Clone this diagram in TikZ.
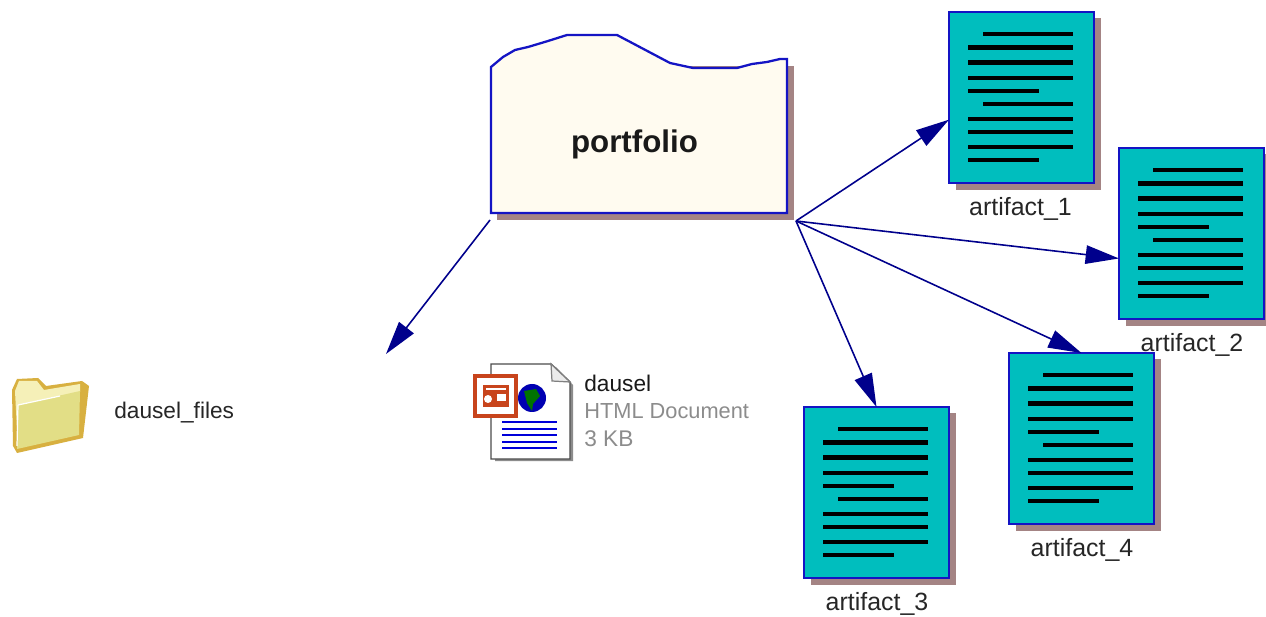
\documentclass[tikz,border=0pt]{standalone}
\usepackage{fontspec}
\setmainfont{Liberation Sans}
\usetikzlibrary{arrows.meta}
\definecolor{edgeblue}{HTML}{1414C4}
\definecolor{arrowblue}{HTML}{00008C}
\definecolor{shadowcol}{HTML}{A48484}
\definecolor{teal1}{HTML}{00BEBE}
\definecolor{cream}{HTML}{FFFBF0}
\definecolor{folderfill}{HTML}{E2DE86}
\definecolor{folderlight}{HTML}{F5F0B8}
\definecolor{folderedge}{HTML}{D8B040}
\definecolor{pptred}{HTML}{C8441C}
\tikzset{
  x=0.02cm,y=-0.02cm,
  artbox/.style={draw=edgeblue,line width=1.3pt,fill=teal1,minimum width=2.9cm,minimum height=3.42cm,inner sep=0pt,outer sep=0pt},
  textline/.style={line width=2.5pt,black},
  doclabel/.style={inner sep=0pt,font=\fontsize{14.2pt}{16pt}\selectfont,text=black!85},
  iconlabel/.style={inner sep=0pt,anchor=west,font=\fontsize{12.9pt}{15pt}\selectfont},
  link/.style={draw=arrowblue,line width=0.9pt,-{Triangle[length=19pt,width=10.5pt,fill=arrowblue]}},
  blueline/.style={line width=1.3pt,blue!85!black}
}
\begin{document}
\begin{tikzpicture}
\useasboundingbox (0,0) rectangle (1266,617);
\fill[white] (0,0) rectangle (1266,617);

% portfolio
\fill[shadowcol] (497,66) -- (794,66) -- (794,220) -- (497,220) -- cycle;
\draw[edgeblue,line width=1.3pt,fill=cream] (491,67) -- (503,57) -- (515,50) -- (528,47) -- (548,41) -- (567,35) -- (617,35) -- (670,63) -- (693,68) -- (737,68) -- (752,64) -- (767,62) -- (780,59) -- (787,59) -- (787,213) -- (491,213) -- cycle;
\node[inner sep=0pt,font=\fontsize{17.8pt}{20pt}\selectfont\bfseries,text=black!90] (pf) at (634.5,144) {portfolio};
\coordinate (hubR) at (796,221);
\coordinate (hubL) at (490,220);
\coordinate (filesEnd) at (386,354);

% artifacts
\foreach \n/\num/\cx/\cy/\lx/\ly in {a1/1/1021.5/97.5/1020.5/209,a2/2/1191.5/233.5/1192/345,a3/3/876.5/492.5/877/604,a4/4/1081.5/438.5/1082/550}{
  \fill[shadowcol] (\cx-66,\cy-79) rectangle (\cx+79.5,\cy+92.5);
  \node[artbox] (\n) at (\cx,\cy) {};
  \begin{scope}[shift={(\cx-72.5,\cy-85.5)}]
    \foreach \sx/\ex/\yy in {34/124/22,19/124/35.5,19/124/50.5,19/124/66,19/90/79,34/124/92,19/124/107,19/124/120,19/124/135,19/90/148}{
      \draw[textline] (\sx,\yy) -- (\ex,\yy);
    }
  \end{scope}
  \node[doclabel] (lab\n) at (\lx,\ly) {artifact\_\num};
}

% connectors
\draw[link] (hubL) -- (filesEnd);
\draw[link] (hubR) -- (a1.197);
\draw[link] (hubR) -- (a2.199);
\draw[link] (hubR) -- (a3.north);
\draw[link] (hubR) -- (a4.north);

% folder icon
\fill[folderedge] (12,390) -- (17,379) -- (38,378) -- (46,386) -- (82,381) -- (89,386) -- (83,438) -- (17,453) -- (13,446) -- cycle;
\fill[folderlight] (15,391) -- (19,381) -- (37,381) -- (44,390) -- (80,384) -- (80,392) -- (18,405) -- (17,430) -- cycle;
\fill[folderfill] (18,405) -- (80,391) -- (79,435) -- (17,449) -- cycle;
\draw[white,line width=0.7pt] (18,405) -- (60,396) (18,405) -- (17,446);
\node[iconlabel,text=black!85] (files) at (114,413) {dausel\_files};

% document icon
\fill[black!45] (495,367) -- (556,367) -- (573,385) -- (573,461) -- (495,461) -- cycle;
\draw[black!70,fill=white,line width=0.8pt] (491,364) -- (551,364) -- (570,382) -- (570,459) -- (491,459) -- cycle;
\draw[black!50,fill=black!8,line width=0.7pt] (551,364) -- (552,381) -- (570,382) -- cycle;
\fill[blue!70!black] (532,398) circle (14);
\fill[green!45!black] (524,391) -- (536,389) -- (540,396) -- (533,404) -- (532,411) -- (527,403) -- cycle;
\foreach \yy in {422,429,435,442,448}{\draw[blueline] (502,\yy) -- (557,\yy);}
\draw[pptred,line width=2pt,fill=white] (475,376) rectangle (516,416);
\fill[pptred] (483,385) rectangle (509,407);
\fill[white] (486,388) rectangle (506,390);
\fill[white] (488,399) circle (4);
\fill[white] (497,394) rectangle (506,401);
\node[iconlabel,text=black!90] (dname) at (584,383) {dausel};
\node[iconlabel,text=black!45,font=\fontsize{12.4pt}{15pt}\selectfont] (dtype) at (584,411) {HTML Document};
\node[iconlabel,text=black!45] (dsize) at (584,439) {3 KB};
\end{tikzpicture}
\end{document}
